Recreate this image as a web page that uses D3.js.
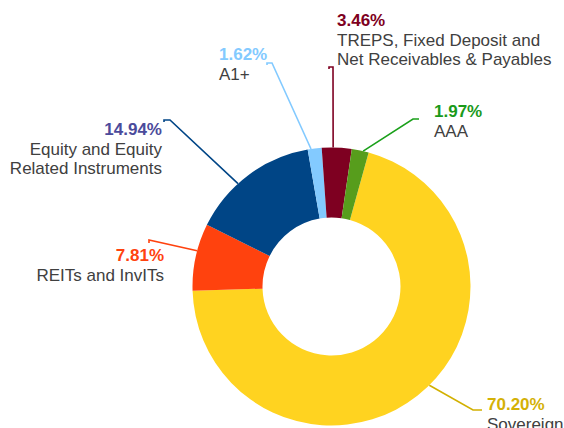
<!DOCTYPE html>
<html>
<head>
<meta charset="utf-8">
<script src="https://cdn.jsdelivr.net/npm/d3@7"></script>
<style>
  body { margin: 0; background: #fff; }
  svg { display: block; }
</style>
</head>
<body>
<div id="chart"></div>
<script>
// portfolio split, clockwise from Sovereign
var categories = ["Sovereign", "REITs and InvITs", "Equity and Equity Related Instruments", "A1+", "TREPS, Fixed Deposit and Net Receivables & Payables", "AAA"];
var values = [70.20, 7.81, 14.94, 1.62, 3.46, 1.97];
var labelLines = [
  ["Sovereign"],
  ["REITs and InvITs"],
  ["Equity and Equity", "Related Instruments"],
  ["A1+"],
  ["TREPS, Fixed Deposit and", "Net Receivables & Payables"],
  ["AAA"]
];

var sliceColors = ["#ffd320", "#ff420e", "#004586", "#83caff", "#7e0021", "#579d1c"];
var pctColors = ["#d4b106", "#ff420e", "#4b4b9b", "#83caff", "#7e0021", "#1a9a1a"];
var lineColors = ["#d2b000", "#ff420e", "#004586", "#83caff", "#7e0021", "#1aa01a"];

// label placement: text baseline, anchor, leader bend points, nudge (deg) of start on ring
var labelLayout = [
  {x: 487, y: 410, anchor: "start", pts: [[473, 410], [482, 410]], nudge: -6.6},
  {x: 164, y: 261, anchor: "end", pts: [[149, 240], [149, 243]], nudge: 2.6},
  {x: 162, y: 135, anchor: "end", pts: [[170, 120], [164, 120], [164, 122]], nudge: -5.5},
  {x: 219, y: 60, anchor: "start", pts: [[272, 63], [267, 63], [267, 65]], nudge: -1.5},
  {x: 337, y: 26, anchor: "start", pts: [[333, 67], [329, 67], [329, 69]], nudge: -1.5},
  {x: 434, y: 117, anchor: "start", pts: [[413, 119], [419, 119]], nudge: 1.2}
];

var width = 564, height = 428;
var cx = 331.5, cy = 286.5, rOuter = 139, rInner = 69;
var startDeg = 15.5;

var svg = d3.select("#chart").append("svg")
  .attr("width", width)
  .attr("height", height);

var pie = d3.pie()
  .sort(null)
  .value(function (d) { return d; })
  .startAngle(startDeg * Math.PI / 180)
  .endAngle((startDeg + 360) * Math.PI / 180);

var arcs = pie(values);

var arc = d3.arc()
  .innerRadius(rInner)
  .outerRadius(rOuter);

var g = svg.append("g").attr("transform", "translate(" + cx + "," + cy + ")");

g.selectAll("path.slice")
  .data(arcs)
  .enter().append("path")
  .attr("class", "slice")
  .attr("d", arc)
  .attr("fill", function (d, i) { return sliceColors[i]; });

// leader lines
var line = d3.line();
arcs.forEach(function (a, i) {
  var lay = labelLayout[i];
  var ang = (a.startAngle + a.endAngle) / 2 + lay.nudge * Math.PI / 180;
  var p0 = [cx + rOuter * Math.sin(ang), cy - rOuter * Math.cos(ang)];
  svg.append("path")
    .attr("d", line([p0].concat(lay.pts)))
    .attr("fill", "none")
    .attr("stroke", lineColors[i])
    .attr("stroke-width", 1.6);
});

// labels
var fontFam = "'Liberation Sans', Arial, sans-serif";
arcs.forEach(function (a, i) {
  var lay = labelLayout[i];
  var t = svg.append("text")
    .attr("x", lay.x)
    .attr("y", lay.y)
    .attr("text-anchor", lay.anchor)
    .attr("font-family", fontFam)
    .attr("font-size", "17px");
  t.append("tspan")
    .attr("x", lay.x)
    .attr("font-weight", "bold")
    .attr("fill", pctColors[i])
    .text(d3.format(".2f")(values[i]) + "%");
  labelLines[i].forEach(function (s) {
    t.append("tspan")
      .attr("x", lay.x)
      .attr("dy", 19.5)
      .attr("fill", "#404040")
      .text(s);
  });
});
</script>
</body>
</html>
